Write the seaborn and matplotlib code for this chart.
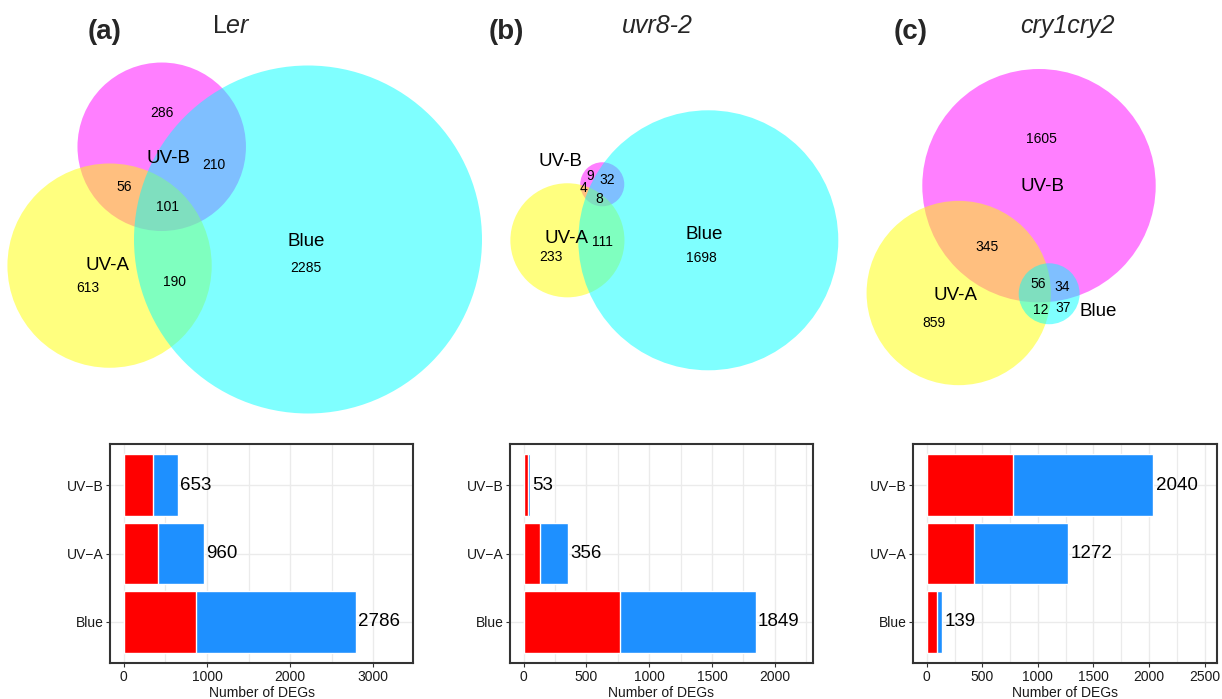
import numpy as np
import pandas as pd
import matplotlib
matplotlib.use("Agg")
import matplotlib.pyplot as plt
from matplotlib.patches import Circle
from matplotlib.ticker import MultipleLocator
import seaborn as sns

# ---------------------------------------------------------
# Data
# ---------------------------------------------------------
sets = ["UV-B", "UV-A", "Blue"]
# Venn regions: UV-B only, UV-A only, Blue only, UV-B&UV-A, UV-B&Blue, UV-A&Blue, all three
region_bits = [1, 2, 4, 3, 5, 6, 7]
ler_regions = [286, 613, 2285, 56, 210, 190, 101]
uvr8_regions = [9, 233, 1698, 4, 32, 111, 8]
cry_regions = [1605, 859, 37, 345, 34, 12, 56]

# DEGs per light treatment (red part of each bar; total = blue end)
bar_labels = ["UV\u2212B", "UV\u2212A", "Blue"]
ler_red = [352, 408, 864]
uvr8_red = [34, 127, 767]
cry_red = [779, 423, 90]

panel_letters = ["(a)", "(b)", "(c)"]
genotypes = [r"L$\mathit{er}$", "uvr8-2", "cry1cry2"]

# ---------------------------------------------------------
# Layout (pixels of a 1222 x 699 canvas)
# ---------------------------------------------------------
venn_layout = [
    dict(anchor=2, centre=(308, 239.5), radius=174, ref=1, angle=172.5, side=1),
    dict(anchor=2, centre=(708.3, 240.3), radius=130, ref=1, angle=180, side=1),
    dict(anchor=0, centre=(1039, 185.7), radius=116.7, ref=1, angle=126.8, side=-1),
]
count_xy = [
    [(161.7, 113.3), (88.3, 288.3), (306, 267.7), (124.3, 186.7), (214.3, 165), (174, 281.7), (167.3, 207.3)],
    [(590, 176), (550.7, 256.7), (701, 258.3), (584, 188.3), (607.7, 180), (602.7, 241.7), (599, 199.3)],
    [(1041.7, 139), (934, 323.3), (1062.7, 308.3), (987.3, 246.7), (1061.7, 286.7), (1040.7, 310), (1038.3, 284.3)],
]
set_xy = [
    [(168.3, 158.3), (107.3, 265.7), (305.7, 241)],
    [(560, 161.7), (566.7, 238.3), (704.3, 234.3)],
    [(1042.3, 186.7), (955.7, 295), (1098.3, 311.7)],
]
title_x = [(104.5, 231.5), (506.5, 657.5), (911, 1067.5)]
bar_axes = [[0.0900, 0.0515, 0.2480, 0.3133],
            [0.4173, 0.0515, 0.2480, 0.3133],
            [0.7471, 0.0515, 0.2488, 0.3133]]
bar_xmax = [3311, 2195, 2487]
bar_major = [1000, 500, 500]

set_colors = ["#FF00FF", "#FFFF00", "#00FFFF"]
RED, BLUE = "#FF0000", "#1E90FF"


# ---------------------------------------------------------
# Area-proportional circle fit
# ---------------------------------------------------------
def lens(r1, r2, d):
    if d >= r1 + r2:
        return 0.0
    if d <= abs(r1 - r2):
        return np.pi * min(r1, r2) ** 2
    a1 = np.arccos(np.clip((d * d + r1 * r1 - r2 * r2) / (2 * d * r1), -1, 1))
    a2 = np.arccos(np.clip((d * d + r2 * r2 - r1 * r1) / (2 * d * r2), -1, 1))
    k = (-d + r1 + r2) * (d + r1 - r2) * (d - r1 + r2) * (d + r1 + r2)
    return r1 * r1 * a1 + r2 * r2 * a2 - 0.5 * np.sqrt(max(k, 0.0))


def pair_distance(r1, r2, target):
    lo, hi = abs(r1 - r2), r1 + r2
    for _ in range(60):
        mid = (lo + hi) / 2
        if lens(r1, r2, mid) > target:
            lo = mid
        else:
            hi = mid
    return (lo + hi) / 2


def nelder_mead(f, x0, step, iters=700):
    n = len(x0)
    pts = [np.array(x0, float)]
    for i in range(n):
        x = np.array(x0, float)
        x[i] += step
        pts.append(x)
    vals = [f(p) for p in pts]
    for _ in range(iters):
        order = np.argsort(vals)
        pts = [pts[k] for k in order]
        vals = [vals[k] for k in order]
        c = np.mean(pts[:-1], axis=0)
        xr = c + (c - pts[-1])
        fr = f(xr)
        if fr < vals[0]:
            xe = c + 2 * (c - pts[-1])
            fe = f(xe)
            pts[-1], vals[-1] = (xe, fe) if fe < fr else (xr, fr)
        elif fr < vals[-2]:
            pts[-1], vals[-1] = xr, fr
        else:
            xc = c + 0.5 * (pts[-1] - c)
            fc = f(xc)
            if fc < vals[-1]:
                pts[-1], vals[-1] = xc, fc
            else:
                pts = [pts[0] + 0.5 * (p - pts[0]) for p in pts]
                vals = [f(p) for p in pts]
    return pts[int(np.argmin(vals))]


def fit_euler(counts):
    c = dict(zip(region_bits, counts))
    tot = np.array([sum(v for b, v in c.items() if b & (1 << i)) for i in range(3)], float)
    r = np.sqrt(tot / np.pi)
    pairs = [(0, 1), (0, 2), (1, 2)]
    pair_tot = [c[(1 << i) | (1 << j)] + c[7] for i, j in pairs]
    d = [pair_distance(r[i], r[j], t) for (i, j), t in zip(pairs, pair_tot)]
    x2 = (d[0] ** 2 + d[1] ** 2 - d[2] ** 2) / (2 * d[0])
    y2 = np.sqrt(max(d[1] ** 2 - x2 ** 2, 0))
    p0 = [d[0], 0.0, x2, y2]

    s = int(np.argmin(r))
    u = np.linspace(-r[s], r[s], 320)
    ux, uy = np.meshgrid(u, u)
    cell = (u[1] - u[0]) ** 2
    target = np.array(counts, float)

    def regions(p):
        cx = np.array([0.0, p[0], p[2]])
        cy = np.array([0.0, p[1], p[3]])
        pa = [lens(r[i], r[j], np.hypot(cx[i] - cx[j], cy[i] - cy[j])) for i, j in pairs]
        gx, gy = ux + cx[s], uy + cy[s]
        inside = np.ones_like(gx, bool)
        for i in range(3):
            inside &= (gx - cx[i]) ** 2 + (gy - cy[i]) ** 2 <= r[i] ** 2
        t = inside.sum() * cell
        full = np.pi * r ** 2
        return np.array([full[0] - pa[0] - pa[1] + t,
                         full[1] - pa[0] - pa[2] + t,
                         full[2] - pa[1] - pa[2] + t,
                         pa[0] - t, pa[1] - t, pa[2] - t, t])

    loss = lambda p: np.sum((regions(p) - target) ** 2)
    p = nelder_mead(loss, p0, 0.25 * r[s])
    P = np.array([[0.0, 0.0], [p[0], p[1]], [p[2], p[3]]])
    return P, r


def place(P, r, lay):
    a, b = lay["anchor"], lay["ref"]
    third = 3 - a - b
    Q = P - P[a]
    th = np.deg2rad(lay["angle"])
    rot = th - np.arctan2(Q[b, 1], Q[b, 0])
    R = np.array([[np.cos(rot), -np.sin(rot)], [np.sin(rot), np.cos(rot)]])
    Q = Q @ R.T
    rel = np.arctan2(Q[third, 1], Q[third, 0]) - th
    rel = (rel + np.pi) % (2 * np.pi) - np.pi
    if np.sign(rel) != lay["side"]:
        M = np.array([[np.cos(2 * th), np.sin(2 * th)], [np.sin(2 * th), -np.cos(2 * th)]])
        Q = Q @ M.T
    k = lay["radius"] / r[a]
    return Q * k + np.array(lay["centre"]), r * k


# ---------------------------------------------------------
# Figure
# ---------------------------------------------------------
sns.set_style("white")
plt.rcParams["font.family"] = ["Liberation Sans", "DejaVu Sans"]
plt.rcParams["mathtext.fontset"] = "custom"
plt.rcParams["mathtext.rm"] = "Liberation Sans"
plt.rcParams["mathtext.it"] = "Liberation Sans:italic"

fig = plt.figure(figsize=(12.22, 6.99), dpi=100)
axv = fig.add_axes([0, 0, 1, 1], zorder=0)
axv.set_xlim(0, 1222)
axv.set_ylim(699, 0)
axv.axis("off")

all_regions = [ler_regions, uvr8_regions, cry_regions]
all_red = [ler_red, uvr8_red, cry_red]

for k in range(3):
    counts = all_regions[k]
    P, r = fit_euler(counts)
    centres, radii = place(P, r, venn_layout[k])
    for i in range(3):
        axv.add_patch(Circle(centres[i], radii[i], facecolor=set_colors[i],
                             alpha=0.5, edgecolor="none"))
    for (x, y), v in zip(count_xy[k], counts):
        axv.text(x, y, str(v), ha="center", va="center", fontsize=10, color="black")
    for (x, y), name in zip(set_xy[k], sets):
        axv.text(x, y, name, ha="center", va="center", fontsize=13.5, color="black")

    lx, gx = title_x[k]
    axv.text(lx, 39, panel_letters[k], ha="center", va="baseline",
             fontsize=20, fontweight="bold")
    axv.text(gx, 33.3, genotypes[k], ha="center", va="baseline", fontsize=18,
             style="normal" if k == 0 else "italic")

    # stacked bar chart of DEG numbers
    totals = [sum(v for b, v in zip(region_bits, counts) if b & (1 << i)) for i in range(3)]
    df = pd.DataFrame({"light": bar_labels, "total": totals, "red": all_red[k]})
    ax = fig.add_axes(bar_axes[k], zorder=2)
    ax.set_axisbelow(True)
    sns.barplot(data=df, y="light", x="total", color=BLUE, saturation=1,
                width=0.9, errorbar=None, ax=ax, orient="h")
    sns.barplot(data=df, y="light", x="red", color=RED, saturation=1,
                width=0.9, errorbar=None, ax=ax, orient="h")
    for i, t in enumerate(totals):
        ax.annotate(str(t), (t, i), xytext=(1.5, 0), textcoords="offset points",
                    ha="left", va="center", fontsize=13.5, color="black")

    xm = bar_xmax[k]
    ax.set_xlim(-0.05 * xm, 1.05 * xm)
    ax.set_ylim(2.6, -0.6)
    ax.xaxis.set_major_locator(MultipleLocator(bar_major[k]))
    ax.xaxis.set_minor_locator(MultipleLocator(bar_major[k] / 2))
    ax.grid(True, which="major", axis="both", color="#EBEBEB", lw=1.0)
    ax.grid(True, which="minor", axis="x", color="#EBEBEB", lw=0.9)
    ax.set_xlabel("Number of DEGs", fontsize=10, labelpad=1.5, color="#1A1A1A")
    ax.set_ylabel("")
    ax.tick_params(which="major", length=2.75, width=0.8, color="#333333",
                   labelsize=10, labelcolor="#1A1A1A", pad=2, bottom=True, left=True)
    ax.tick_params(which="minor", length=0)
    for sp in ax.spines.values():
        sp.set_color("#333333")
        sp.set_linewidth(1.5)

fig.savefig("out.png", dpi=100)
